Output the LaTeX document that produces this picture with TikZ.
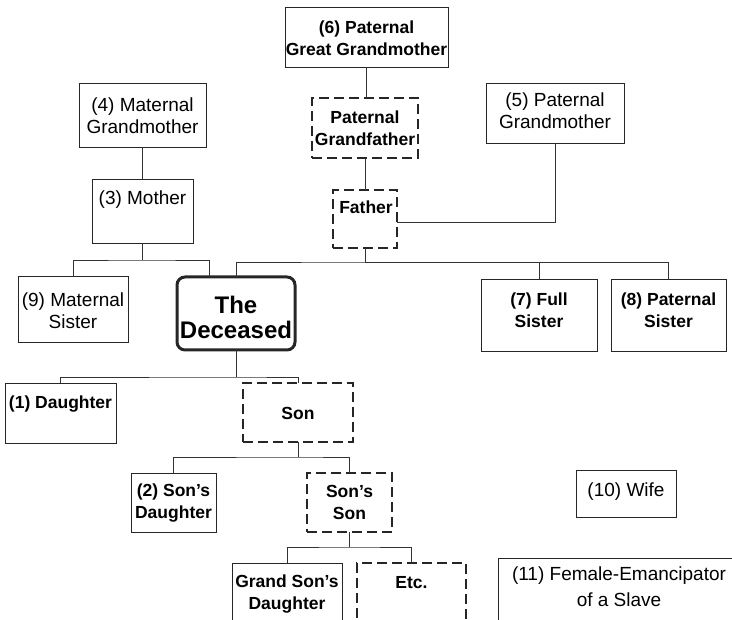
\documentclass[tikz,border=0pt]{standalone}
\usepackage{fontspec}
\setmainfont{Liberation Sans}
\begin{document}
\begin{tikzpicture}[x=1pt,y=-1pt,
  box/.style={draw=black!85, line width=0.9pt, inner sep=0pt, outer sep=0pt},
  dbox/.style={box, line width=1.2pt, dash pattern=on 10pt off 5pt},
  dec/.style={box, line width=3pt, rounded corners=8pt},
  rt/.style={font=\fontsize{19}{22}\selectfont, align=center, inner sep=0pt},
  bt/.style={font=\fontsize{17.5}{22}\selectfont\bfseries, align=center, inner sep=0pt},
  link/.style={draw=black!80, line width=0.8pt}]
\useasboundingbox (0,0) rectangle (732,620);
\clip (0,0) rectangle (732,620);
% boxes
\node[box, minimum width=163pt, minimum height=60pt] (b6) at (366.5,37) {};
\node[box, minimum width=127pt, minimum height=64pt] (b4) at (142.5,115) {};
\node[box, minimum width=101pt, minimum height=64pt] (b3) at (142.5,211) {};
\node[dbox, minimum width=106pt, minimum height=60pt] (bpgf) at (365,128) {};
\node[dbox, minimum width=64pt, minimum height=58pt] (bf) at (365,219) {};
\node[box, minimum width=138pt, minimum height=60pt] (b5) at (555,113) {};
\node[box, minimum width=110pt, minimum height=66pt] (b9) at (73,309) {};
\node[dec, minimum width=118pt, minimum height=73pt] (bd) at (236,313.5) {};
\node[box, minimum width=116pt, minimum height=72pt] (b7) at (539,315) {};
\node[box, minimum width=115pt, minimum height=72pt] (b8) at (668.5,315) {};
\node[box, minimum width=111pt, minimum height=60pt] (b1) at (60.5,413) {};
\node[dbox, minimum width=110pt, minimum height=59pt] (bs) at (298,412.5) {};
\node[box, minimum width=85pt, minimum height=59pt] (b2) at (173.5,502.5) {};
\node[dbox, minimum width=85pt, minimum height=59pt] (bss) at (349.5,502.5) {};
\node[box, minimum width=110pt, minimum height=82pt] (bgsd) at (287,604) {};
\node[dbox, minimum width=109pt, minimum height=82pt] (betc) at (411.5,604) {};
\node[box, minimum width=100pt, minimum height=47pt] (b10) at (626,493.5) {};
\node[box, minimum width=242pt, minimum height=87pt] (b11) at (619,601.5) {};
% texts
\node[bt] (t6) at (366.5,38) {(6) Paternal\\Great Grandmother};
\node[rt] (t4) at (142.5,116) {(4) Maternal\\Grandmother};
\node[rt] (t3) at (142.5,200) {(3) Mother};
\node[bt] (tpgf) at (365,128) {Paternal\\Grandfather};
\node[bt] (tf) at (366,207) {Father};
\node[rt] (t5) at (555,111) {(5) Paternal\\Grandmother};
\node[rt] (t9) at (73,311) {(9) Maternal\\Sister};
\node[font=\fontsize{24}{25}\selectfont\bfseries, align=center, inner sep=0pt] (td) at (236,317) {The\\Deceased};
\node[bt] (t7) at (539,310) {(7) Full\\Sister};
\node[bt] (t8) at (668.5,310) {(8) Paternal\\Sister};
\node[bt] (t1) at (60.5,404) {(1) Daughter};
\node[bt] (ts) at (298,413) {Son};
\node[bt] (t2) at (173.5,503.5) {(2) Son’s\\Daughter};
\node[bt] (tss) at (349.5,502.5) {Son’s\\Son};
\node[bt] (tgsd) at (287,594) {Grand Son’s\\Daughter};
\node[bt] (tetc) at (411.5,583) {Etc.};
\node[rt] (t10) at (626,492) {(10) Wife};
\node[rt, font=\fontsize{19}{26}\selectfont] (t11) at (619,586.5) {(11) Female-Emancipator\\of a Slave};
% junctions
\path (bf.south) ++(0,14) coordinate (fj);
\path (b3.south) ++(0,17) coordinate (mj);
\path (bd.north) ++(-27,0) coordinate (dm);
\path (bd.south) ++(0,27) coordinate (dj);
\path (bs.south) ++(0,15) coordinate (sj);
\path (bss.south) ++(0,15) coordinate (ssj);
% connectors
\draw[link] (b6.south) -- (b6.south |- bpgf.north);
\draw[link] (bpgf.south) -- (bf.north);
\draw[link] (b4.south) -- (b3.north);
\draw[link] (b5.south) |- ([yshift=-3pt]bf.east);
\draw[link] (bf.south) -- (fj);
\draw[link] (bd.north) |- (fj) -| (b8.north);
\draw[link] (fj) -| (b7.north);
\draw[link] (b3.south) -- (mj);
\draw[link] (b9.north) |- (mj) -| (dm);
\draw[link] (bd.south) -- (dj);
\draw[link] (b1.north) |- (dj) -| (bs.north);
\draw[link] (bs.south) -- (sj);
\draw[link] (b2.north) |- (sj) -| (bss.north);
\draw[link] (bss.south) -- (ssj);
\draw[link] (bgsd.north) |- (ssj) -| (betc.north);
\end{tikzpicture}
\end{document}
